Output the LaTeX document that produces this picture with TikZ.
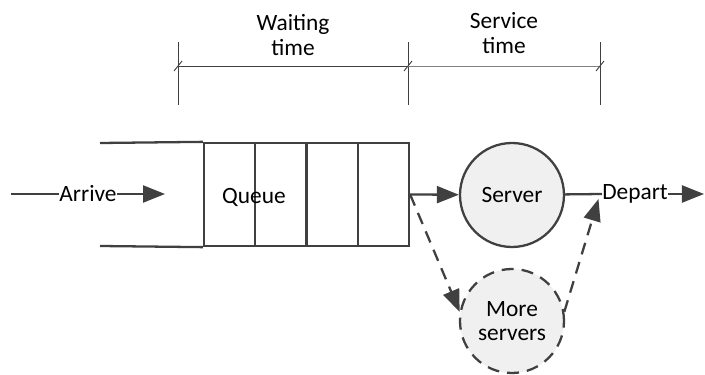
\documentclass[tikz,border=0pt]{standalone}
\usepackage{fontspec}
\setmainfont{Carlito}
\usetikzlibrary{arrows.meta,calc,positioning}

\begin{document}
\begin{tikzpicture}[
  every node/.style={font=\fontsize{13.3}{14}\selectfont},
  line/.style={draw=darkgray, line width=1.3pt},
  arr/.style={line, -{Triangle[length=0.44cm,width=0.34cm]}},
  dashline/.style={dash pattern=on 0.24cm off 0.16cm},
  server/.style={circle, line, fill=black!6, minimum size=2.08cm, inner sep=0pt, align=center},
  tick/.style={draw=darkgray, line width=0.5pt}
]
  \useasboundingbox (0,0) rectangle (14.1,7.5);
  % time line
  \coordinate (w0) at (3.56,6.18);
  \coordinate (w1) at (8.16,6.18);
  \coordinate (s1) at (12.0,6.18);
  \foreach \x in {3.56,8.16,12.0}
    \draw[tick] (\x,5.40) -- (\x,6.66);
  \draw[tick] (w0) -- (w1);
  \draw[tick, gray] (w1) -- (s1);
  \foreach \p in {w0,w1,s1}
    \draw[tick] ($(\p)+(-0.08,-0.1)$) -- ($(\p)+(0.08,0.1)$);
  \node[align=center] (waiting) at (5.86,6.80) {Waiting\\time};
  \node[align=center] (service) at (10.08,6.84) {Service\\time};

  % arrivals
  \coordinate (in) at (0.22,3.62);
  \coordinate (inend) at (3.30,3.62);
  \node[inner sep=0pt] (arrive) at (1.76,3.62) {Arrive};
  \draw[line] (in) -- (arrive);
  \draw[arr] (arrive) -- (inend);

  % queue
  \node[line, minimum width=4.1cm, minimum height=2.06cm, inner sep=0pt] (queue) at (6.13,3.61) {};
  \foreach \i in {1,2,3}
    \draw[line] ($(queue.south west)!\i/4!(queue.south east)$) -- ($(queue.north west)!\i/4!(queue.north east)$);
  \coordinate (qtop) at (2.0,4.64);
  \coordinate (qbot) at (2.0,2.58);
  \draw[line] (qtop) -- (queue.north west);
  \draw[line] (qbot) -- (queue.south west);
  \node (qlabel) at (5.08,3.55) {Queue};

  % servers
  \node[server] (server) at (10.24,3.60) {Server};
  \node[server, dashline] (more) at (10.24,1.08) {More\\servers};
  \node[inner sep=0pt, anchor=west] (depart) at (12.04,3.62) {Depart};
  \coordinate (out) at (14.08,3.62);
  \coordinate (join) at (11.97,3.52);
  \draw[arr] (queue.east) -- (server);
  \draw[line] (server) -- (depart.west);
  \draw[arr] (depart) -- (out);
  \draw[arr, dashline] (queue.east) -- (more.170);
  \draw[arr, dashline] (more.10) -- (join);
\end{tikzpicture}
\end{document}
